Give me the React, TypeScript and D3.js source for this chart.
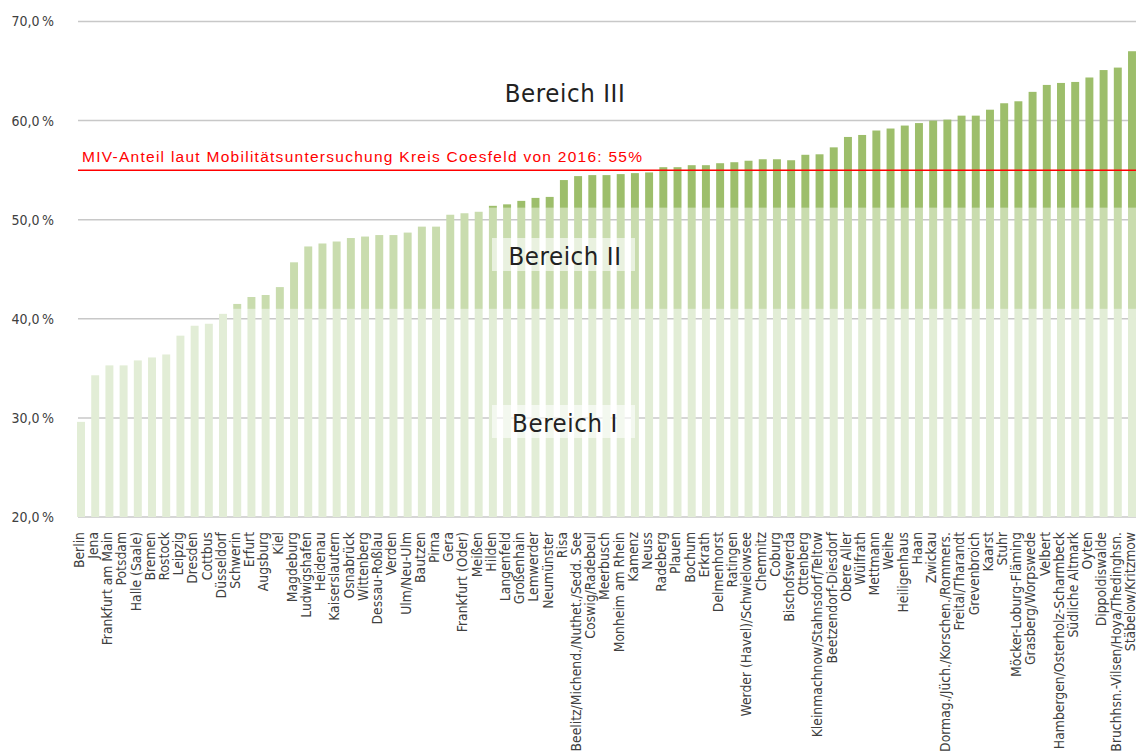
import React from "react";
import * as d3 from "d3";

const categories = [
  "Berlin", "Jena", "Frankfurt am Main", "Potsdam", "Halle (Saale)", "Bremen", "Rostock", "Leipzig", "Dresden", "Cottbus",
  "Düsseldorf", "Schwerin", "Erfurt", "Augsburg", "Kiel", "Magdeburg", "Ludwigshafen", "Heidenau", "Kaiserslautern", "Osnabrück",
  "Wittenberg", "Dessau-Roßlau", "Verden", "Ulm/Neu-Ulm", "Bautzen", "Pirna", "Gera", "Frankfurt (Oder)", "Meißen", "Hilden",
  "Langenfeld", "Großenhain", "Lemwerder", "Neumünster", "Risa", "Beelitz/Michend./Nuthet./Sedd. See", "Coswig/Radebeul", "Meerbusch", "Monheim am Rhein", "Kamenz",
  "Neuss", "Radeberg", "Plauen", "Bochum", "Erkrath", "Delmenhorst", "Ratingen", "Werder (Havel)/Schwielowsee", "Chemnitz", "Coburg",
  "Bischofswerda", "Ottenberg", "Kleinmachnow/Stahnsdorf/Teltow", "Beetzendorf-Diesdorf", "Obere Aller", "Wülfrath", "Mettmann", "Weihe", "Heiligenhaus", "Haan",
  "Zwickau", "Dormag./Jüch./Korschen./Rommers.", "Freital/Tharandt", "Grevenbroich", "Kaarst", "Stuhr", "Möcker-Loburg-Fläming", "Grasberg/Worpswede", "Velbert", "Hambergen/Osterholz-Scharmbeck",
  "Südliche Altmark", "Oyten", "Dippoldiswalde", "Bruchhsn.-Vilsen/Hoya/Thedinghsn.", "Stäbelow/Kritzmow",
];

const values = [
  29.6, 34.3, 35.3, 35.3, 35.8, 36.1, 36.4, 38.3, 39.3, 39.5,
  40.5, 41.5, 42.2, 42.4, 43.2, 45.7, 47.3, 47.6, 47.8, 48.15,
  48.3, 48.45, 48.45, 48.7, 49.3, 49.3, 50.5, 50.65, 50.8, 51.4,
  51.55, 51.9, 52.2, 52.3, 54.0, 54.4, 54.5, 54.5, 54.6, 54.7,
  54.77, 55.3, 55.3, 55.5, 55.5, 55.7, 55.8, 55.95, 56.1, 56.1,
  56.0, 56.55, 56.6, 57.3, 58.35, 58.55, 59.0, 59.2, 59.5, 59.75,
  60.0, 60.1, 60.5, 60.5, 61.1, 61.75, 61.95, 62.9, 63.6, 63.8,
  63.9, 64.35, 65.1, 65.35, 67.0,
];

const yTicks = [20, 30, 40, 50, 60, 70];
const bandLimits = [20, 41, 51.2];
const bandColors = ["#e2edd6", "#c9dcae", "#9dbe6b"];
const refValue = 55;
const refLabel = "MIV-Anteil laut Mobilitätsuntersuchung Kreis Coesfeld von 2016: 55%";
const regionLabels = [
  { text: "Bereich III", value: 61.88, box: false },
  { text: "Bereich II", value: 45.43, box: true },
  { text: "Bereich I", value: 28.58, box: true },
];

const W = 1136;
const H = 751;
const COND = "'DejaVu Sans Condensed', 'DejaVu Sans', sans-serif";

export default function App() {
  const x = d3
    .scaleBand<string>()
    .domain(categories)
    .range([73.9, 1139.1])
    .paddingInner(0.44)
    .paddingOuter(0.22);
  const y = d3.scaleLinear().domain([20, 70]).range([517, 21.5]);
  const gridX0 = 78;
  const gridX1 = 1136;
  const fmt = (v: number) => v.toFixed(1).replace(".", ",") + "\u202F%";

  return (
    <svg
      width={W}
      height={H}
      style={{ position: "absolute", left: 0, top: 0, background: "#fff" }}
    >
      {yTicks.map((t) => (
        <g key={t}>
          <line x1={gridX0} x2={gridX1} y1={y(t)} y2={y(t)} stroke="#c8c8c8" strokeWidth={1.5} />
          <text
            x={54}
            y={y(t)}
            dy="0.35em"
            textAnchor="end"
            fontFamily={COND}
            fontSize={14}
            fill="#404040"
          >
            {fmt(t)}
          </text>
        </g>
      ))}
      {categories.map((c, i) => {
        const v = values[i];
        const segs = bandLimits.map((lo, k) => {
          const hi = k + 1 < bandLimits.length ? bandLimits[k + 1] : Infinity;
          const top = Math.min(v, hi);
          if (top <= lo) return null;
          return (
            <rect
              key={k}
              x={x(c)}
              width={x.bandwidth()}
              y={y(top)}
              height={y(lo) - y(top)}
              fill={bandColors[k]}
            />
          );
        });
        return <g key={c}>{segs}</g>;
      })}
      <line
        x1={gridX0}
        x2={gridX1}
        y1={y(refValue)}
        y2={y(refValue)}
        stroke="#ff0000"
        strokeWidth={1.5}
      />
      <text
        x={82}
        y={y(refValue) - 8}
        fontFamily="'Liberation Sans', Arial, sans-serif"
        fontSize={15.5}
        fill="#ff0000"
        textLength={560}
        lengthAdjust="spacing"
      >
        {refLabel}
      </text>
      {regionLabels.map((r) => (
        <g key={r.text}>
          {r.box && (
            <rect
              x={492}
              width={143}
              y={y(r.value) - 27}
              height={33}
              fill="#ffffff"
              opacity={0.6}
            />
          )}
          <text
            x={565}
            y={y(r.value)}
            textAnchor="middle"
            fontFamily={COND}
            fontSize={25.5}
            letterSpacing={0.6}
            fill="#222"
          >
            {r.text}
          </text>
        </g>
      ))}
      {categories.map((c) => {
        const cx = (x(c) as number) + x.bandwidth() / 2 - 2;
        return (
          <text
            key={"l" + c}
            transform={`translate(${cx},532) rotate(-90)`}
            dy="0.35em"
            textAnchor="end"
            fontFamily={COND}
            fontSize={13.8}
            fill="#404040"
          >
            {c}
          </text>
        );
      })}
    </svg>
  );
}
